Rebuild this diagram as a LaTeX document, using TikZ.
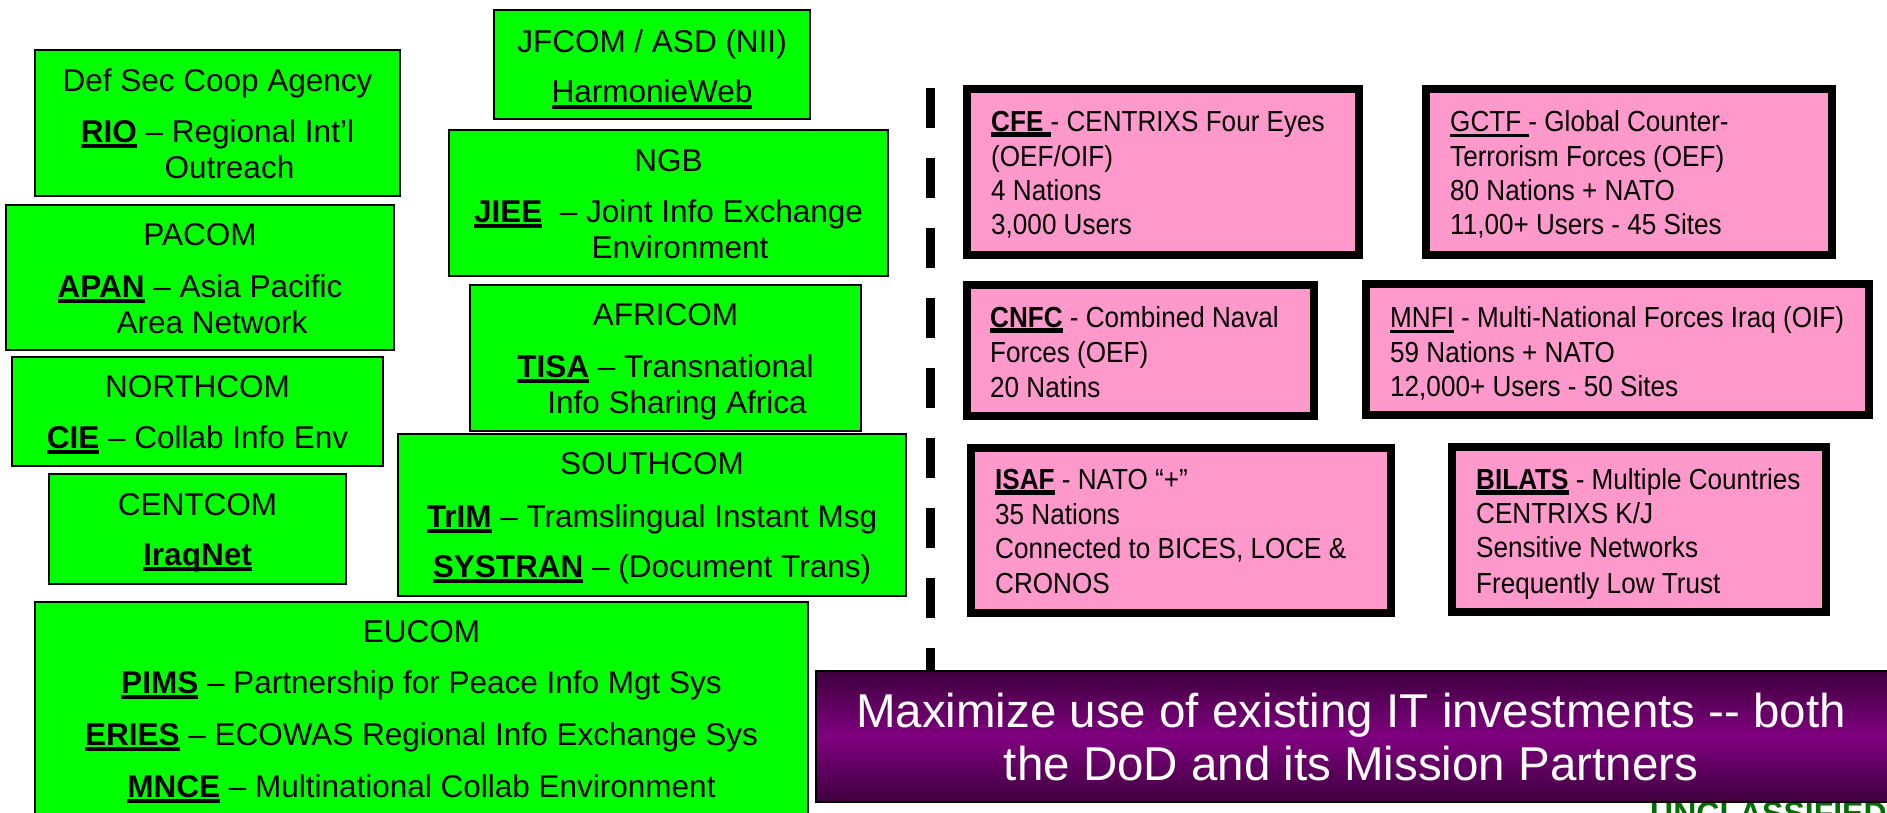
\documentclass[tikz,border=0pt]{standalone}
\usepackage{fontspec}
\setmainfont{Liberation Sans}
\newfontfamily\narrowfont[FakeStretch=0.9]{Liberation Sans}
\definecolor{gfill}{RGB}{0,255,0}
\definecolor{pfill}{RGB}{255,153,204}
\definecolor{purdark}{RGB}{62,0,62}
\definecolor{purmid}{RGB}{128,0,128}
\definecolor{unclgreen}{RGB}{0,110,0}
\newcommand\ulb[1]{\setbox0=\hbox{#1}\rlap{\rule[-0.2em]{\wd0}{0.15em}}\box0\relax}
\newcommand\uln[1]{\setbox0=\hbox{#1}\rlap{\rule[-0.21em]{\wd0}{0.1em}}\box0\relax}
\newcommand\gline[4]{\node[gtxt] (#1) at (#2,#3) {#4};}
\newcommand\pline[4]{\node[ptxt] (#1) at (#2,#3) {#4};}
\tikzset{
  gboxst/.style={draw=black, line width=2pt, fill=gfill, anchor=north west, inner sep=0pt, outer sep=0pt},
  pboxst/.style={draw=black, line width=8pt, fill=pfill, anchor=north west, inner sep=0pt, outer sep=0pt},
  gtxt/.style={anchor=base, inner sep=0pt, font=\fontsize{31.5}{36}\selectfont},
  ptxt/.style={anchor=base west, inner sep=0pt, font=\narrowfont\fontsize{29}{34}\selectfont},
  wtxt/.style={anchor=base, inner sep=0pt, text=white, font=\fontsize{47.5}{53}\selectfont},
  sepline/.style={line width=9pt, dash pattern=on 40pt off 30pt},
}
\begin{document}
\begin{tikzpicture}[x=1pt,y=-1pt]
\useasboundingbox (0,0) rectangle (1887,812);

% ---------- green boxes ----------
\node[gboxst, minimum width=365pt, minimum height=146pt] (dsca) at (35,50) {};
\node[gboxst, minimum width=388pt, minimum height=145pt] (pacom) at (6,205) {};
\node[gboxst, minimum width=371pt, minimum height=109pt] (northcom) at (12,357) {};
\node[gboxst, minimum width=297pt, minimum height=110pt] (centcom) at (49,474) {};
\node[gboxst, minimum width=316pt, minimum height=109pt] (jfcom) at (494,10) {};
\node[gboxst, minimum width=439pt, minimum height=146pt] (ngb) at (449,130) {};
\node[gboxst, minimum width=391pt, minimum height=146pt] (africom) at (470,285) {};
\node[gboxst, minimum width=508pt, minimum height=162pt] (southcom) at (398,434) {};
\node[gboxst, minimum width=773pt, minimum height=228pt] (eucom) at (35,602) {};

\gline{dsca1}{217.5}{91}{Def Sec Coop Agency}
\gline{dsca2}{217.5}{142}{\ulb{\textbf{RIO}} – Regional Int’l}
\gline{dsca3}{229.5}{178}{Outreach}

\gline{pacom1}{200}{245}{PACOM}
\gline{pacom2}{200}{297}{\ulb{\textbf{APAN}} – Asia Pacific}
\gline{pacom3}{212}{333}{Area Network}

\gline{north1}{197.5}{397}{NORTHCOM}
\gline{north2}{197.5}{448}{\ulb{\textbf{CIE}} – Collab Info Env}

\gline{cent1}{197.5}{515}{CENTCOM}
\gline{cent2}{197.5}{565}{\ulb{\textbf{IraqNet}}}

\gline{jf1}{652}{52}{JFCOM / ASD (NII)}
\gline{jf2}{652}{102}{\uln{HarmonieWeb}}

\gline{ngb1}{668.5}{171}{NGB}
\gline{ngb2}{668.5}{222}{\ulb{\textbf{JIEE}}\ \ – Joint Info Exchange}
\gline{ngb3}{680}{258}{Environment}

\gline{afr1}{665.5}{325}{AFRICOM}
\gline{afr2}{665.5}{377}{\ulb{\textbf{TISA}} – Transnational}
\gline{afr3}{677}{413}{Info Sharing Africa}

\gline{south1}{652}{474}{SOUTHCOM}
\gline{south2}{652}{527}{\ulb{\textbf{TrIM}} – Tramslingual Instant Msg}
\gline{south3}{652}{577}{\ulb{\textbf{SYSTRAN}} – (Document Trans)}

\gline{eu1}{421.5}{642}{EUCOM}
\gline{eu2}{421.5}{693}{\ulb{\textbf{PIMS}} – Partnership for Peace Info Mgt Sys}
\gline{eu3}{421.5}{745}{\ulb{\textbf{ERIES}} – ECOWAS Regional Info Exchange Sys}
\gline{eu4}{421.5}{797}{\ulb{\textbf{MNCE}} – Multinational Collab Environment}

% ---------- separator ----------
\coordinate (septop) at (930.5,88);
\coordinate (sepbot) at (930.5,670);
\draw[sepline] (septop) -- (sepbot);

% ---------- pink boxes ----------
\node[pboxst, minimum width=392pt, minimum height=166pt] (cfe) at (967,89) {};
\node[pboxst, minimum width=406pt, minimum height=166pt] (gctf) at (1426,89) {};
\node[pboxst, minimum width=347pt, minimum height=131pt] (cnfc) at (967,285) {};
\node[pboxst, minimum width=503pt, minimum height=131pt] (mnfi) at (1366,284) {};
\node[pboxst, minimum width=420pt, minimum height=165pt] (isaf) at (971,448) {};
\node[pboxst, minimum width=374pt, minimum height=165pt] (bilats) at (1452,447) {};

\pline{cfe1}{991}{131}{\ulb{\textbf{CFE }}- CENTRIXS Four Eyes}
\pline{cfe2}{991}{166}{(OEF/OIF)}
\pline{cfe3}{991}{200}{4 Nations}
\pline{cfe4}{991}{234}{3,000 Users}

\pline{gctf1}{1450}{131}{\uln{GCTF }- Global Counter-}
\pline{gctf2}{1450}{166}{Terrorism Forces (OEF)}
\pline{gctf3}{1450}{200}{80 Nations + NATO}
\pline{gctf4}{1450}{234}{11,00+ Users - 45 Sites}

\pline{cnfc1}{990}{327}{\ulb{\textbf{CNFC}} - Combined Naval}
\pline{cnfc2}{990}{362}{Forces (OEF)}
\pline{cnfc3}{990}{397}{20 Natins}

\pline{mnfi1}{1390}{327}{\uln{MNFI} - Multi-National Forces Iraq (OIF)}
\pline{mnfi2}{1390}{362}{59 Nations + NATO}
\pline{mnfi3}{1390}{396}{12,000+ Users - 50 Sites}

\pline{isaf1}{995}{489}{\ulb{\textbf{ISAF}} - NATO “+”}
\pline{isaf2}{995}{524}{35 Nations}
\pline{isaf3}{995}{558}{Connected to BICES, LOCE \&}
\pline{isaf4}{995}{593}{CRONOS}

\pline{bil1}{1476}{489}{\ulb{\textbf{BILATS}} - Multiple Countries}
\pline{bil2}{1476}{523}{CENTRIXS K/J}
\pline{bil3}{1476}{557}{Sensitive Networks}
\pline{bil4}{1476}{593}{Frequently Low Trust}

% ---------- classification marking ----------
\node[anchor=base west, inner sep=0pt, text=unclgreen, font=\bfseries\fontsize{32}{36}\selectfont] (uncl) at (1650,824) {UNCLASSIFIED};

% ---------- purple banner ----------
\node[draw=black, line width=2pt, anchor=north west, inner sep=0pt, outer sep=0pt,
      minimum width=1072pt, minimum height=131pt,
      top color=purdark, bottom color=purdark, middle color=purmid] (banner) at (816,671) {};
\node[wtxt] (ban1) at (1351,727) {Maximize use of existing IT investments -{}- both};
\node[wtxt] (ban2) at (1351,780) {the DoD and its Mission Partners};
\end{tikzpicture}
\end{document}
